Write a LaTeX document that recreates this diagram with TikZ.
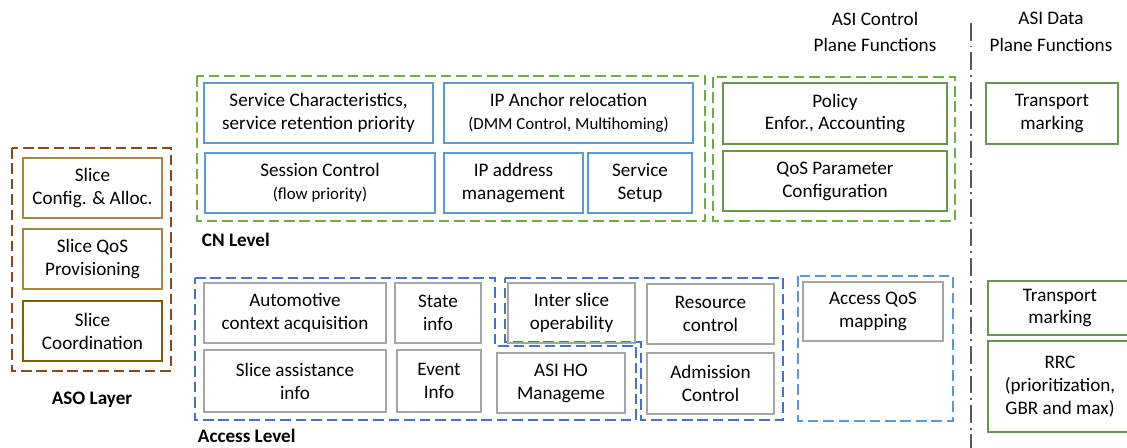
\documentclass[tikz,border=0pt]{standalone}
\usepackage{fontspec}
\setmainfont{Carlito}
\usepackage{xcolor}

\definecolor{cnblue}{RGB}{91,155,213}
\definecolor{accblue}{RGB}{68,114,196}
\definecolor{lvlgreen}{RGB}{112,173,71}
\definecolor{fngreen}{RGB}{106,150,76}
\definecolor{asobrown}{RGB}{140,70,25}
\definecolor{asogold}{RGB}{165,135,65}
\definecolor{asodark}{RGB}{127,96,0}
\definecolor{accgray}{RGB}{165,165,165}

\newcommand{\subtxt}[1]{{\fontsize{12}{16.3}\selectfont #1}}

\tikzset{
    txt/.style={font=\fontsize{13.6}{16.3}\selectfont, align=center},
    title/.style={font=\fontsize{13.6}{19}\selectfont, align=center},
    lvl/.style={font=\fontsize{13.6}{16}\selectfont\bfseries},
    dashbox/.style={line width=2pt, dash pattern=on 7.5pt off 3.5pt},
    cnbox/.style={draw=cnblue, line width=1.7pt},
    fnbox/.style={draw=fngreen, line width=1pt},
    accbox/.style={draw=accgray, line width=2pt},
    asobox/.style={draw=asogold, line width=1pt},
}

\begin{document}
\begin{tikzpicture}[x=0.025cm,y=-0.025cm]
        \useasboundingbox (0,0) rectangle (1127,448);

        % titles and separator
        \node[title] (ctlTitle) at (875,32) {ASI Control\\Plane Functions};
        \node[title] (dataTitle) at (1051,32) {ASI Data\\Plane Functions};
        \coordinate (sepTop) at (971,23);
        \coordinate (sepBot) at (971,448);
        \draw[black!65, line width=1.4pt, dash pattern=on 12.5pt off 3.5pt on 1.4pt off 3.5pt] (sepTop) -- (sepBot);

        % ASO layer
        \draw[dashbox, asobrown] (12,148) rectangle (171,371);
        \draw[asobox] (23,158) rectangle (162,218) node[pos=.5, txt] (sliceCfg) {Slice\\Config. \& Alloc.};
        \draw[asobox] (23,229) rectangle (162,289) node[pos=.5, txt] (sliceQos) {Slice QoS\\Provisioning};
        \draw[draw=asodark, line width=1.8pt] (23,301) rectangle (162,361) node[pos=.5, txt] (sliceCoord) {Slice\\Coordination};
        \node[lvl] (asoLbl) at (92,400) {ASO Layer};

        % CN level
        \draw[dashbox, lvlgreen] (197,76) rectangle (705,221);
        \draw[dashbox, lvlgreen] (713,77) rectangle (955,221);
        \draw[cnbox] (204,83) rectangle (433,143) node[pos=.5, txt] (svcChar) {Service Characteristics,\\service retention priority};
        \draw[cnbox] (444,83) rectangle (693,143) node[pos=.5, txt] (ipAnchor) {IP Anchor relocation\\\subtxt{(DMM Control, Multihoming)}};
        \draw[cnbox] (205,153) rectangle (435,213) node[pos=.5, txt] (session) {Session Control\\\subtxt{(flow priority)}};
        \draw[cnbox] (444,153) rectangle (583,213) node[pos=.5, txt] (ipAddr) {IP address\\management};
        \draw[cnbox] (588,153) rectangle (692,213) node[pos=.5, txt] (svcSetup) {Service\\Setup};
        \draw[fnbox] (723,83) rectangle (947,144) node[pos=.5, txt] (policy) {Policy\\Enfor., Accounting};
        \draw[fnbox] (723,151) rectangle (947,211) node[pos=.5, txt] (qosParam) {QoS Parameter\\Configuration};
        \draw[fnbox] (986,83) rectangle (1118,144) node[pos=.5, txt] (transTop) {Transport\\marking};
        \node[lvl, anchor=west] (cnLbl) at (197,240) {CN Level};

        % Access level
        \draw[dashbox, accblue] (195,278) -- (495,278) -- (495,346) -- (636,346) -- (636,420) -- (195,420) -- cycle;
        \draw[dashbox, accblue] (505,278) -- (783,278) -- (783,420) -- (641,420) -- (641,342) -- (505,342) -- cycle;
        \draw[dashbox, cnblue] (798,276) rectangle (953,421);
        \draw[accbox] (204,283) rectangle (386,343) node[pos=.5, txt] (autoCtx) {Automotive\\context acquisition};
        \draw[accbox] (395,283) rectangle (481,343) node[pos=.5, txt] (stateInfo) {State\\info};
        \draw[accbox] (204,350) rectangle (386,412) node[pos=.5, txt] (sliceAssist) {Slice assistance\\info};
        \draw[accbox] (397,350) rectangle (481,412) node[pos=.5, txt] (eventInfo) {Event\\Info};
        \draw[accbox] (508,283) rectangle (635,343) node[pos=.5, txt] (interSlice) {Inter slice\\operability};
        \draw[accbox] (497,353) rectangle (625,413) node[pos=.5, txt] (hoMgmt) {ASI HO\\Manageme};
        \draw[accbox] (647,284) rectangle (774,344) node[pos=.5, txt] (resCtl) {Resource\\control};
        \draw[accbox] (647,353) rectangle (774,414) node[pos=.5, txt] (admCtl) {Admission\\Control};
        \draw[accbox] (803,282) rectangle (943,341) node[pos=.5, txt] (accQos) {Access QoS\\mapping};
        \draw[fnbox] (988,281) rectangle (1132,335) node[pos=.5, txt] (transBot) {Transport\\marking};
        \draw[fnbox] (988,341) rectangle (1132,432) node[pos=.5, txt] (rrc) {RRC\\(prioritization,\\GBR and max)};
        \node[lvl, anchor=west] (accLbl) at (193,436) {Access Level};
\end{tikzpicture}
\end{document}
